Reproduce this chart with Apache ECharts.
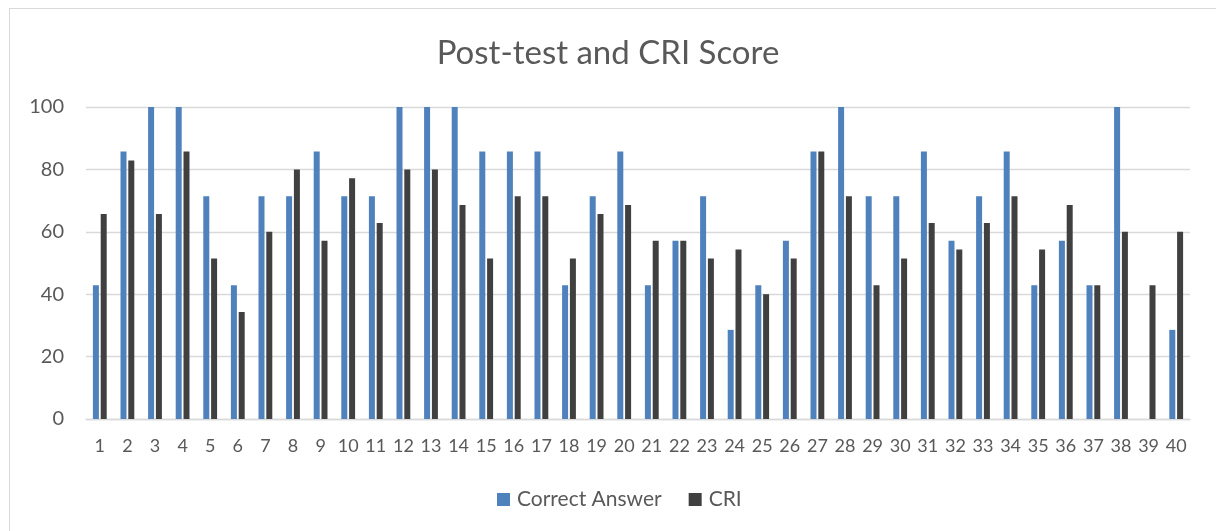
<!DOCTYPE html>
<html>
<head>
<meta charset="utf-8">
<script src="https://cdn.jsdelivr.net/npm/echarts@6/dist/echarts.min.js"></script>
<style>
  html, body { margin: 0; padding: 0; background: #fff; }
  #frame { position: absolute; left: 9px; top: 8px; width: 1230px; height: 560px; border: 1px solid #d9d9d9; box-sizing: border-box; }
  #chart { position: absolute; left: 0; top: 0; width: 1216px; height: 531px; }
</style>
</head>
<body>
<div id="frame"></div>
<div id="chart"></div>
<script>
const categories = ["1","2","3","4","5","6","7","8","9","10","11","12","13","14","15","16","17","18","19","20",
  "21","22","23","24","25","26","27","28","29","30","31","32","33","34","35","36","37","38","39","40"];
const correctAnswer = [42.86, 85.71, 100, 100, 71.43, 42.86, 71.43, 71.43, 85.71, 71.43,
  71.43, 100, 100, 100, 85.71, 85.71, 85.71, 42.86, 71.43, 85.71,
  42.86, 57.14, 71.43, 28.57, 42.86, 57.14, 85.71, 100, 71.43, 71.43,
  85.71, 57.14, 71.43, 85.71, 42.86, 57.14, 42.86, 100, 0, 28.57];
const cri = [65.71, 82.86, 65.71, 85.71, 51.43, 34.29, 60, 80, 57.14, 77.14,
  62.86, 80, 80, 68.57, 51.43, 71.43, 71.43, 51.43, 65.71, 68.57,
  57.14, 57.14, 51.43, 54.29, 40, 51.43, 85.71, 71.43, 42.86, 51.43,
  62.86, 54.29, 62.86, 71.43, 54.29, 68.57, 42.86, 60, 42.86, 60];
const yTicks = { min: 0, max: 100, interval: 20 };

const chart = echarts.init(document.getElementById('chart'), null, { renderer: 'canvas' });
const font = 'Lato, "Liberation Sans", sans-serif';
chart.setOption({
  animation: false,
  title: {
    text: 'Post-test and CRI Score',
    left: 'center',
    top: 32,
    textStyle: { fontFamily: font, fontSize: 33, fontWeight: 'normal', color: '#595959' }
  },
  legend: {
    bottom: 16,
    left: 492,
    itemWidth: 13, itemHeight: 13, itemGap: 27,
    icon: 'rect',
    textStyle: { fontFamily: font, fontSize: 21, color: '#595959', padding: [0, 0, 0, 2] },
    data: ['Correct Answer', 'CRI']
  },
  grid: { left: 86, right: 26, top: 107, bottom: 112, containLabel: false },
  xAxis: {
    type: 'category',
    data: categories,
    axisLine: { show: true, lineStyle: { color: '#d9d9d9', width: 1.3 } },
    axisTick: { show: false },
    axisLabel: { fontFamily: font, fontSize: 18, color: '#595959', margin: 18, interval: 0 }
  },
  yAxis: {
    type: 'value',
    min: yTicks.min, max: yTicks.max, interval: yTicks.interval,
    axisLine: { show: false },
    axisTick: { show: false },
    splitLine: { lineStyle: { color: '#d9d9d9', width: 1.3 } },
    axisLabel: { fontFamily: font, fontSize: 20, color: '#595959', margin: 22 }
  },
  series: [
    { name: 'Correct Answer', type: 'bar', data: correctAnswer, barWidth: 6, barGap: '30%',
      itemStyle: { color: '#4f81bd' } },
    { name: 'CRI', type: 'bar', data: cri, barWidth: 6,
      itemStyle: { color: '#404040' } }
  ]
});
</script>
</body>
</html>
